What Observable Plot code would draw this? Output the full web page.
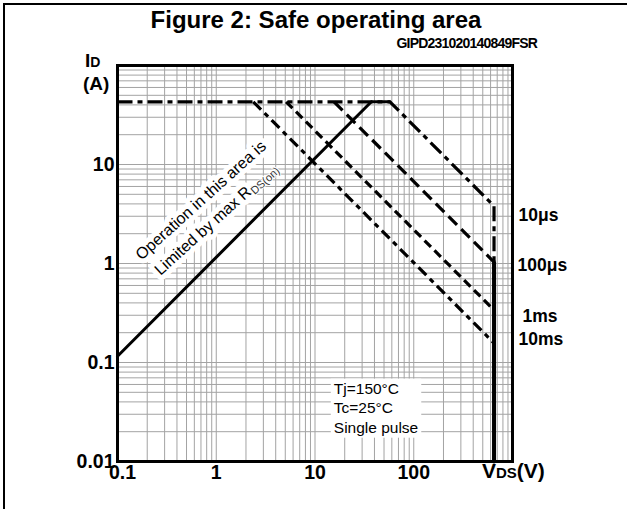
<!DOCTYPE html>
<html><head><meta charset="utf-8">
<script src="https://cdn.jsdelivr.net/npm/d3@7"></script>
<script src="https://cdn.jsdelivr.net/npm/@observablehq/plot@0.6"></script>
<style>
body{margin:0;background:#fff;font-family:"Liberation Sans",Arial,sans-serif;}
#wrap{position:relative;width:627px;height:509px;overflow:hidden;background:#fff;}
#border{position:absolute;left:3px;top:3px;width:640px;height:520px;border-left:2px solid #000;border-top:2px solid #000;pointer-events:none;}
#chart{position:absolute;left:0;top:0;}
</style></head>
<body><div id="wrap"><div id="chart"></div><div id="border"></div></div>
<script>
// ---- data ----
const pulses = ["10μs", "100μs", "1ms", "10ms"];
const kneeV = [57.4, 15.6, 5.1, 2.37];      // VDS (V) where each pulse curve leaves the current limit
const endI = [3.8, 1.035, 0.338, 0.157];    // ID (A) of each pulse curve at VDS max
const iMax = 43;                             // ID max (A)
const vdsMax = 650;                          // VDS max (V)
const rdsStartV = 0.1, rdsStartI = 0.1156;   // RDS(on) limit line start
const conditions = ["Tj=150°C", "Tc=25°C", "Single pulse"];
const xTickValues = [0.1, 1, 10, 100];
const yTickValues = [0.01, 0.1, 1, 10];

// ---- styles ----
const FONT = "'Liberation Sans', Arial, sans-serif";
const dashes = ["15,5,5,5", "12,6", "9,5", "11,5,5,5"];
const labelDx = [6, 5, 10, 6];
const labelDy = [9, 3, 6, -4];

const rdsPeakV = iMax * rdsStartV / rdsStartI;
const seg = (pts) => pts.map(([x, y]) => ({x, y}));
const pulseLines = pulses.map((p, i) => i === 0
  ? seg([[0.1, iMax], [kneeV[0], iMax], [vdsMax, endI[0]], [vdsMax, endI[1]]])
  : seg([[kneeV[i], iMax], [vdsMax, endI[i]]]));
const rdsLine = seg([[rdsStartV, rdsStartI], [rdsPeakV, iMax], [kneeV[0], iMax]]);
const vLimit = seg([[vdsMax, endI[1]], [vdsMax, 0.01]]);
const labels = pulses.map((p, i) => ({p, y: endI[i]}));

const xGrid = d3.scaleLog().domain([0.1, 1000]).ticks();
const yGrid = d3.scaleLog().domain([0.01, 100]).ticks();

const marks = [
  Plot.gridX({ticks: xGrid, stroke: "#a3a3a3", strokeOpacity: 1, strokeWidth: 1}),
  Plot.gridY({ticks: yGrid, stroke: "#a3a3a3", strokeOpacity: 1, strokeWidth: 1}),
  Plot.text(["Operation in this area is"], {x: () => 0.70, y: () => 4.34, text: d => d, rotate: -42,
    fontSize: 16, fill: "#000", stroke: "white", strokeWidth: 10, textAnchor: "middle", lineAnchor: "middle"}),
  Plot.text(["Limited by max RDS(on)"], {x: () => 0.995, y: () => 2.82, text: d => d, rotate: -42,
    fontSize: 16, fill: "#000", stroke: "white", strokeWidth: 10, textAnchor: "middle", lineAnchor: "middle"}),
  Plot.text([conditions.join("\n")], {x: () => 15.5, y: () => 0.0356, text: d => d, textAnchor: "start",
    lineAnchor: "middle", lineHeight: 1.26, fontSize: 15.5, fill: "#000"}),
  ...pulseLines.map((pts, i) => Plot.line(pts, {x: "x", y: "y", stroke: "#000", strokeWidth: 3.2,
    strokeDasharray: dashes[i], strokeLinecap: "butt", strokeLinejoin: "miter"})),
  Plot.line(rdsLine, {x: "x", y: "y", stroke: "#000", strokeWidth: 3, strokeLinejoin: "miter"}),
  Plot.line(vLimit, {x: "x", y: "y", stroke: "#000", strokeWidth: 4}),
  ...labels.map((l, i) => Plot.text([l], {x: () => 1000, y: "y", text: "p", dx: labelDx[i], dy: labelDy[i],
    textAnchor: "start", fontSize: 17.5, fontWeight: "bold", fill: "#000"})),
  Plot.frame({stroke: "#000", strokeWidth: 3}),
  Plot.axisY(yTickValues, {tickSize: 0, tickPadding: 3, fontSize: 19.5, fontWeight: "bold", label: null,
    tickFormat: d => String(d), fill: "#000"}),
  Plot.axisX([xTickValues[0]], {tickSize: 0, tickPadding: 4, fontSize: 19.5, fontWeight: "bold", label: null,
    tickFormat: d => String(d), dx: 5, fill: "#000"}),
  Plot.axisX(xTickValues.slice(1), {tickSize: 0, tickPadding: 4, fontSize: 19.5, fontWeight: "bold", label: null,
    tickFormat: d => String(d), fill: "#000"})
];

const chart = Plot.plot({
  width: 627, height: 509,
  marginLeft: 117, marginRight: 115, marginTop: 65, marginBottom: 48,
  x: {type: "log", domain: [0.1, 1000]},
  y: {type: "log", domain: [0.01, 100]},
  style: {fontFamily: FONT, background: "transparent", overflow: "visible", color: "#000"},
  marks
});
document.getElementById("chart").appendChild(chart);

const svg = d3.select(chart);
const NS = "http://www.w3.org/2000/svg";

svg.selectAll("text").each(function() {
  const txt = this.textContent;
  if (txt === "Limited by max RDS(on)") {
    // subscript for RDS(on)
    const t = d3.select(this);
    t.selectAll("*").remove();
    t.text(null);
    t.append("tspan").text("Limited by max R");
    t.append("tspan").attr("font-size", 11).attr("dy", 3).attr("dx", 0.5)
      .attr("stroke-width", 2).attr("fill", "#333").text("DS(on)");
  } else if (txt.includes("Single pulse")) {
    // white box behind the test conditions
    const g = this.parentNode;
    const bb = g.getBBox();
    const rect = document.createElementNS(NS, "rect");
    rect.setAttribute("x", bb.x - 3);
    rect.setAttribute("y", bb.y - 1);
    rect.setAttribute("width", bb.width + 6);
    rect.setAttribute("height", bb.height + 3);
    rect.setAttribute("fill", "white");
    if (g.getAttribute("transform")) rect.setAttribute("transform", g.getAttribute("transform"));
    g.parentNode.insertBefore(rect, g);
  }
});

// title, code, axis labels
const add = (x, y, size, weight, anchor) => svg.append("text").attr("x", x).attr("y", y)
  .attr("font-size", size).attr("font-weight", weight).attr("text-anchor", anchor)
  .attr("font-family", FONT).attr("fill", "#000");
add(316, 27.5, 24, "bold", "middle").text("Figure 2: Safe operating area");
add(537, 48, 14, "bold", "end").attr("letter-spacing", -0.8).text("GIPD231020140849FSR");
const id = add(85, 67, 19, "bold", "start");
id.append("tspan").text("I");
id.append("tspan").attr("font-size", 14).text("D");
add(83, 90, 19, "bold", "start").text("(A)");
const vds = add(482, 478, 21, "bold", "start");
vds.append("tspan").text("V");
vds.append("tspan").attr("font-size", 15).text("DS");
vds.append("tspan").text("(V)");
</script>
</body></html>
